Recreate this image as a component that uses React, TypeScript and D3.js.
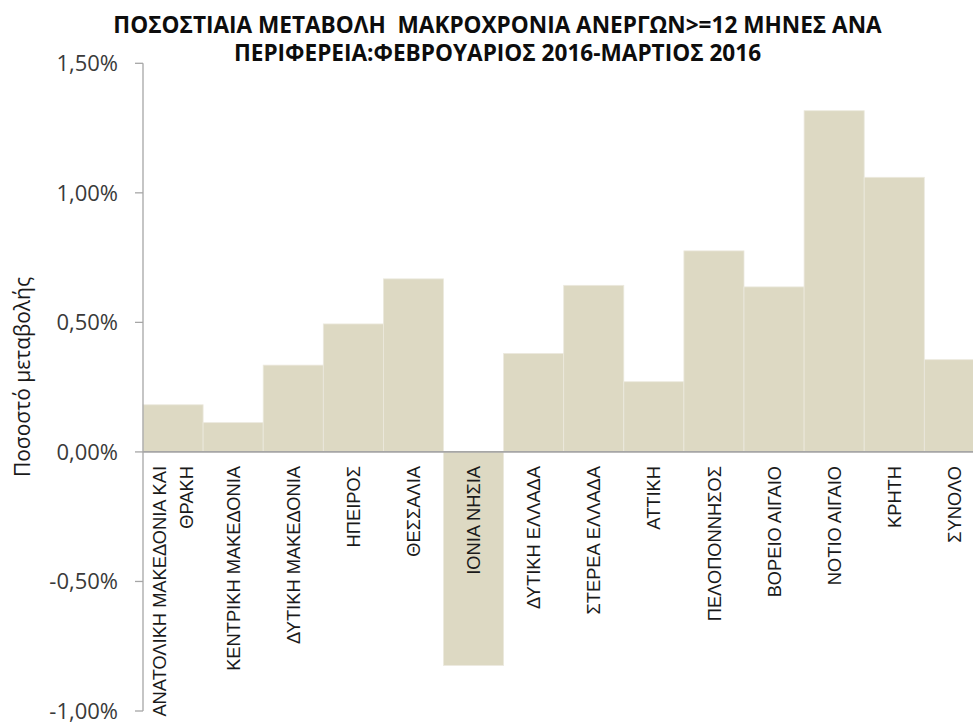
import React from "react";
import * as d3 from "d3";

const titleLines = [
  "ΠΟΣΟΣΤΙΑΙΑ ΜΕΤΑΒΟΛΗ  ΜΑΚΡΟΧΡΟΝΙΑ ΑΝΕΡΓΩΝ>=12 ΜΗΝΕΣ ΑΝΑ",
  "ΠΕΡΙΦΕΡΕΙΑ:ΦΕΒΡΟΥΑΡΙΟΣ 2016-ΜΑΡΤΙΟΣ 2016",
];
const yAxisTitle = "Ποσοστό μεταβολής";

const categories = [
  "ΑΝΑΤΟΛΙΚΗ ΜΑΚΕΔΟΝΙΑ ΚΑΙ\nΘΡΑΚΗ",
  "ΚΕΝΤΡΙΚΗ ΜΑΚΕΔΟΝΙΑ",
  "ΔΥΤΙΚΗ ΜΑΚΕΔΟΝΙΑ",
  "ΗΠΕΙΡΟΣ",
  "ΘΕΣΣΑΛΙΑ",
  "ΙΟΝΙΑ ΝΗΣΙΑ",
  "ΔΥΤΙΚΗ ΕΛΛΑΔΑ",
  "ΣΤΕΡΕΑ ΕΛΛΑΔΑ",
  "ΑΤΤΙΚΗ",
  "ΠΕΛΟΠΟΝΝΗΣΟΣ",
  "ΒΟΡΕΙΟ ΑΙΓΑΙΟ",
  "ΝΟΤΙΟ ΑΙΓΑΙΟ",
  "ΚΡΗΤΗ",
  "ΣΥΝΟΛΟ",
];

// percent change
const values = [0.182, 0.113, 0.335, 0.494, 0.668, -0.824, 0.38, 0.643, 0.271, 0.776, 0.637, 1.317, 1.06, 0.356];

const tickValues = [-1, -0.5, 0, 0.5, 1, 1.5];
const tickLabels = ["-1,00%", "-0,50%", "0,00%", "0,50%", "1,00%", "1,50%"];

const W = 973;
const H = 722;
const plotLeft = 143;
const bandW = 60.1;
const yTop = 63.3;
const yBottom = 711;

export default function App() {
  const x = d3
    .scaleBand<string>()
    .domain(categories)
    .range([plotLeft, plotLeft + bandW * categories.length])
    .padding(0);
  const y = d3.scaleLinear().domain([-1, 1.5]).range([yBottom, yTop]);
  const y0 = y(0);
  const barColor = "#ddd9c3";
  const axisColor = "#a6a6a6";

  return (
    <svg
      width={W}
      height={H}
      style={{ position: "absolute", left: 0, top: 0, display: "block", background: "#fff" }}
    >
      {/* bars */}
      {categories.map((c, i) => {
        const v = values[i];
        const top = Math.min(y(v), y0);
        const h = Math.abs(y(v) - y0);
        return (
          <rect
            key={c}
            x={x(c)}
            y={top}
            width={x.bandwidth()}
            height={h}
            fill={barColor}
            stroke="#ece9de"
            strokeWidth={0.8}
          />
        );
      })}

      {/* y axis */}
      <line x1={plotLeft} x2={plotLeft} y1={yTop} y2={yBottom} stroke={axisColor} strokeWidth={1.3} />
      {tickValues.map((t, i) => (
        <g key={t}>
          <line x1={plotLeft - 8} x2={plotLeft} y1={y(t)} y2={y(t)} stroke={axisColor} strokeWidth={1.3} />
          <text
            x={118}
            y={y(t)}
            dy="0.36em"
            textAnchor="end"
            fontFamily="'Open Sans', sans-serif"
            fontSize={22}
            fill="#3a3a3a"
          >
            {tickLabels[i]}
          </text>
        </g>
      ))}

      {/* zero line */}
      <line x1={plotLeft} x2={W} y1={y0} y2={y0} stroke={axisColor} strokeWidth={1.6} />

      {/* category labels */}
      {categories.map((c) => {
        const cx = (x(c) as number) + x.bandwidth() / 2;
        const lines = c.split("\n");
        const n = lines.length;
        return (
          <g key={c} transform={`translate(${cx},466) rotate(-90)`}>
            {lines.map((ln, j) => (
              <text
                key={j}
                x={0}
                y={(j - (n - 1) / 2) * 27}
                dy="0.36em"
                textAnchor="end"
                fontFamily="'Liberation Sans', Arial, sans-serif"
                fontSize={18.3}
                fill="#1a1a1a"
              >
                {ln}
              </text>
            ))}
          </g>
        );
      })}

      {/* y axis title */}
      <text
        transform="translate(30,377) rotate(-90)"
        textAnchor="middle"
        fontFamily="'Open Sans', sans-serif"
        fontSize={21}
        fill="#1a1a1a"
      >
        {yAxisTitle}
      </text>

      {/* title */}
      {titleLines.map((t, i) => (
        <text
          key={i}
          x={497.5}
          y={33 + i * 28}
          textAnchor="middle"
          fontFamily="'Open Sans', sans-serif"
          fontWeight={700}
          fontSize={22.6}
          fill="#0d0d0d"
          style={{ whiteSpace: "pre" }}
        >
          {t}
        </text>
      ))}
    </svg>
  );
}
